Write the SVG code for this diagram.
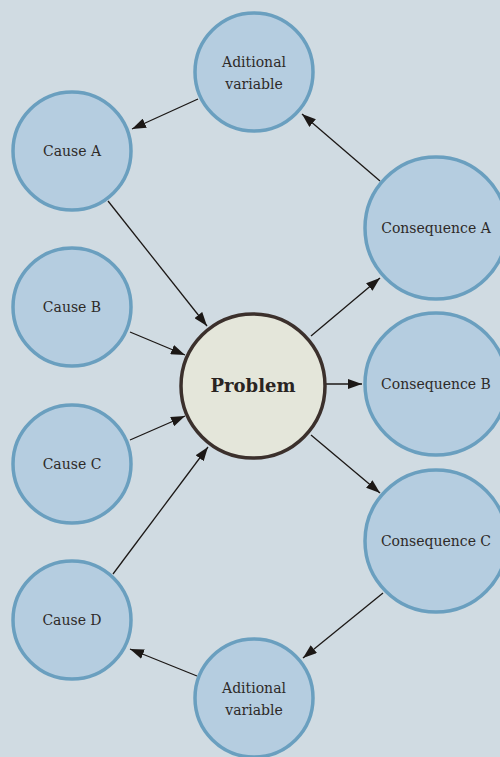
<svg xmlns="http://www.w3.org/2000/svg" width="500" height="757" viewBox="0 0 500 757">
<defs>
<marker id="ah" viewBox="0 0 14 10" refX="14" refY="5" markerWidth="14" markerHeight="10" markerUnits="userSpaceOnUse" orient="auto">
<path d="M0,0 L14,5 L0,10 z" fill="#1c1816"/>
</marker>
<style>
.n{fill:#b5cde0;stroke:#6a9fbf;stroke-width:3.5}
.p{fill:#e4e6da;stroke:#3b302c;stroke-width:3.5}
.t{font-family:'DejaVu Serif',serif;font-size:14px;fill:#2e2a28;text-anchor:middle}
.tb{font-family:'DejaVu Serif',serif;font-size:18px;font-weight:bold;fill:#2a2422;text-anchor:middle}
.c{stroke:#1c1816;stroke-width:1.3;fill:none;marker-end:url(#ah)}
</style>
</defs>
<rect width="500" height="757" fill="#d0dbe2"/>
<g id="connectors">
<line class="c" x1="198" y1="99" x2="132" y2="129"/>
<line class="c" x1="108" y1="201" x2="207" y2="326"/>
<line class="c" x1="130" y1="332" x2="185" y2="355"/>
<line class="c" x1="130" y1="440" x2="185" y2="416"/>
<line class="c" x1="113" y1="574" x2="208" y2="447"/>
<line class="c" x1="311" y1="336" x2="380" y2="278"/>
<line class="c" x1="326" y1="384" x2="362" y2="384"/>
<line class="c" x1="311" y1="435" x2="380" y2="493"/>
<line class="c" x1="380" y1="181" x2="302" y2="114"/>
<line class="c" x1="383" y1="593" x2="303" y2="658"/>
<line class="c" x1="197" y1="676" x2="130" y2="649"/>
</g>
<g id="problem"><circle class="p" cx="253" cy="386" r="72"/><text class="tb" x="253" y="392">Problem</text></g>
<g id="causeA"><circle class="n" cx="72" cy="151" r="59"/><text class="t" x="72" y="156">Cause A</text></g>
<g id="causeB"><circle class="n" cx="72" cy="307" r="59"/><text class="t" x="72" y="312">Cause B</text></g>
<g id="causeC"><circle class="n" cx="72" cy="464" r="59"/><text class="t" x="72" y="469">Cause C</text></g>
<g id="causeD"><circle class="n" cx="72" cy="620" r="59"/><text class="t" x="72" y="625">Cause D</text></g>
<g id="varTop"><circle class="n" cx="254" cy="72" r="59"/><text class="t" x="254" y="67">Aditional</text><text class="t" x="254" y="89">variable</text></g>
<g id="varBottom"><circle class="n" cx="254" cy="698" r="59"/><text class="t" x="254" y="693">Aditional</text><text class="t" x="254" y="715">variable</text></g>
<g id="consA"><circle class="n" cx="436" cy="228" r="71"/><text class="t" x="436" y="233">Consequence A</text></g>
<g id="consB"><circle class="n" cx="436" cy="384" r="71"/><text class="t" x="436" y="389">Consequence B</text></g>
<g id="consC"><circle class="n" cx="436" cy="541" r="71"/><text class="t" x="436" y="546">Consequence C</text></g>
</svg>
